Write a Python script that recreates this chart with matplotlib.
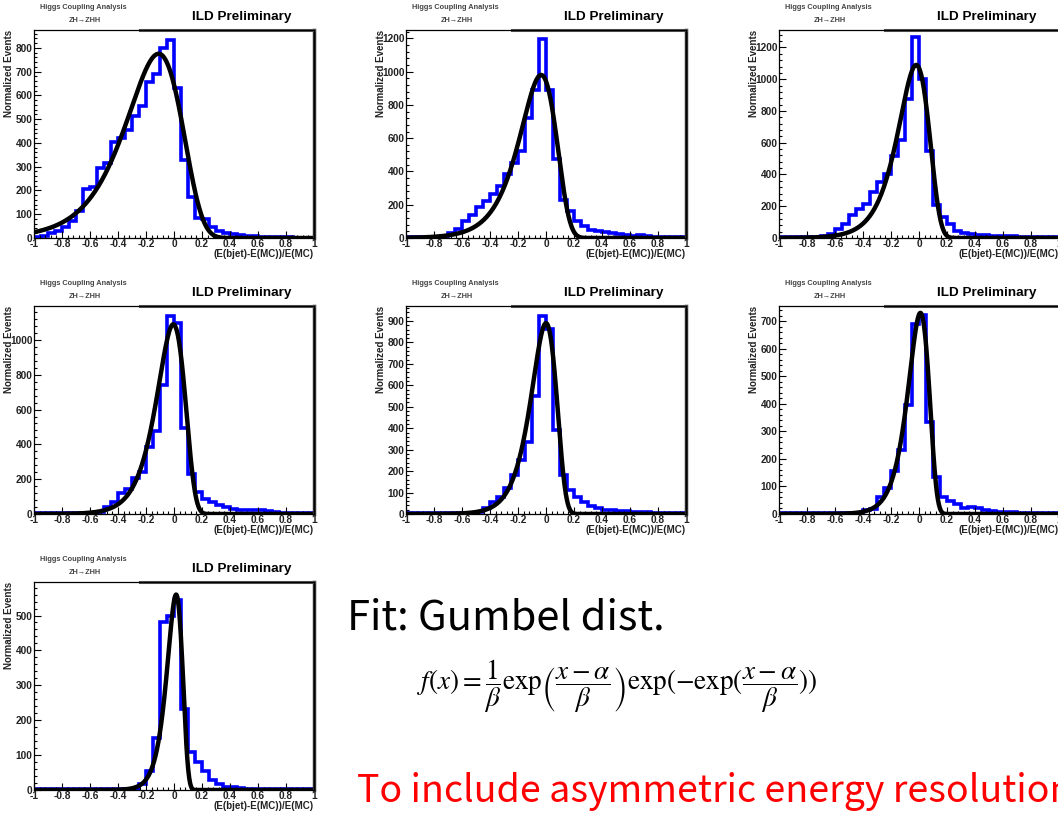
# b-jet energy resolution, 7 jet categories, Gumbel fits (ILD style plots)

import numpy as np
import matplotlib
matplotlib.use("Agg")
import matplotlib.pyplot as plt
from matplotlib.ticker import MultipleLocator, FuncFormatter

# histogram contents, 40 bins of 0.05 from -1 to 1
counts_1 = [5, 10, 20, 31, 45, 73, 115, 205, 215, 294, 315, 404, 420, 453, 512, 554, 657, 692, 800, 835,
            633, 329, 172, 84, 80, 45, 31, 20, 15, 12, 10, 8, 6, 5, 4, 3, 3, 2, 2, 2]
counts_2 = [5, 5, 5, 5, 8, 15, 30, 55, 100, 140, 185, 225, 265, 315, 385, 450, 520, 720, 890, 1195,
            890, 475, 230, 160, 100, 70, 50, 40, 35, 30, 25, 20, 15, 20, 10, 8, 8, 6, 5, 5]
counts_3 = [5, 5, 5, 5, 5, 5, 10, 25, 57, 89, 142, 185, 217, 291, 355, 400, 515, 620, 875, 1265,
            1000, 545, 206, 130, 90, 47, 30, 25, 20, 20, 15, 12, 10, 10, 8, 6, 6, 5, 5, 5]
counts_4 = [3, 3, 3, 3, 3, 3, 3, 3, 3, 12, 40, 69, 118, 146, 204, 243, 387, 474, 744, 1139,
            1100, 493, 227, 127, 89, 69, 50, 40, 31, 21, 21, 25, 21, 17, 12, 8, 6, 5, 5, 4]
counts_5 = [3, 3, 3, 3, 3, 3, 3, 3, 3, 3, 9, 28, 56, 80, 119, 181, 251, 337, 548, 923,
            861, 392, 181, 111, 80, 56, 36, 28, 20, 17, 14, 12, 10, 8, 7, 6, 5, 5, 5, 5]
counts_6 = [3, 3, 3, 3, 3, 3, 3, 3, 3, 3, 3, 3, 16, 19, 62, 95, 156, 232, 394, 688,
            722, 333, 135, 62, 46, 38, 22, 25, 23, 13, 10, 8, 8, 6, 5, 5, 4, 3, 3, 3]
counts_7 = [2, 2, 2, 2, 2, 2, 2, 2, 2, 2, 2, 2, 2, 2, 2, 17, 55, 150, 480, 500,
            545, 232, 108, 79, 55, 29, 17, 10, 8, 5, 4, 4, 3, 3, 3, 2, 2, 2, 2, 2]
all_counts = [counts_1, counts_2, counts_3, counts_4, counts_5, counts_6, counts_7]

# gumbel fit parameters
fit_alpha = [-0.11, -0.035, -0.02, -0.005, 0.0, 0.01, 0.015]
fit_beta = [0.20, 0.13, 0.11, 0.10, 0.09, 0.075, 0.055]
fit_peak = [775, 980, 1090, 1090, 890, 730, 560]

y_max = [875, 1250, 1310, 1195, 970, 755, 596]
y_step = [100, 200, 200, 200, 100, 100, 100]
x_ticks = [-1, -0.8, -0.6, -0.4, -0.2, 0, 0.2, 0.4, 0.6, 0.8, 1]

W, H = 1058, 814
# axes boxes in pixels: left, top
col_left = [34, 406, 779]
row_top = [30, 306, 582]
AX_W, AX_H = 280, 208

ROOT_FONT = "Liberation Sans"


def gumbel(x, alpha, beta, peak):
    z = (x - alpha) / beta
    return peak * np.e * np.exp(z - np.exp(z))


def draw_panel(ax, counts, alpha, beta, peak, ymax, ystep):
    edges = np.linspace(-1, 1, len(counts) + 1)
    ax.stairs(counts, edges, color="#0000ff", lw=2.6)
    xs = np.linspace(-1, 1, 600)
    ax.plot(xs, gumbel(xs, alpha, beta, peak), color="black", lw=3.2)

    ax.set_xlim(-1, 1)
    ax.set_ylim(0, ymax)
    ax.set_xticks(x_ticks)
    ax.xaxis.set_major_formatter(FuncFormatter(lambda v, p: "%g" % round(v, 2)))
    ax.xaxis.set_minor_locator(MultipleLocator(0.04))
    ax.yaxis.set_major_locator(MultipleLocator(ystep))
    ax.yaxis.set_minor_locator(MultipleLocator(ystep / 5))
    ax.yaxis.set_major_formatter(FuncFormatter(lambda v, p: "%d" % v))
    ax.tick_params(which="both", direction="in", top=False, right=False,
                   width=0.8, labelsize=7.3, pad=1.0, labelcolor="#222222")
    ax.tick_params(which="major", length=5)
    ax.tick_params(which="minor", length=2.5)
    for lab in ax.get_xticklabels() + ax.get_yticklabels():
        lab.set_fontweight("bold")
        lab.set_fontfamily(ROOT_FONT)

    for s in ax.spines.values():
        s.set_linewidth(0.9)
    # ROOT frame shadow on the right and title box edge on top
    ax.plot([1.0, 1.0], [0, 1.0], transform=ax.transAxes, color="#333333",
            lw=2.5, clip_on=False)
    ax.plot([0.38, 1.0], [1.0, 1.0], transform=ax.transAxes, color="#555555",
            lw=2.2, clip_on=False)

    ax.text(0.021, 1.106, "Higgs Coupling Analysis", transform=ax.transAxes,
            fontsize=5.3, fontweight="bold", color="#444444", family=ROOT_FONT,
            ha="left", va="center")
    ax.text(0.125, 1.046, "ZH\u2192ZHH", transform=ax.transAxes,
            fontsize=5.3, fontweight="bold", color="#444444", family=ROOT_FONT,
            ha="left", va="center")
    ax.text(0.566, 1.0625, "ILD Preliminary", transform=ax.transAxes,
            fontsize=9.7, fontweight="bold", family=ROOT_FONT,
            ha="left", va="center")
    ax.text(-0.088, 1.0, "Normalized Events", transform=ax.transAxes,
            rotation=90, fontsize=7, fontweight="bold", family=ROOT_FONT,
            ha="center", va="top", color="#222222")
    ax.text(1.0, -0.076, "(E(bjet)-E(MC))/E(MC)", transform=ax.transAxes,
            fontsize=7, fontweight="bold", family=ROOT_FONT,
            ha="right", va="center", color="#222222")


plt.rcParams["mathtext.fontset"] = "stix"
fig = plt.figure(figsize=(W / 100, H / 100), dpi=100)
fig.patch.set_facecolor("white")

slots = [(r, c) for r in range(3) for c in range(3)][:7]
for i, (r, c) in enumerate(slots):
    left = col_left[c] / W
    bottom = 1 - (row_top[r] + AX_H) / H
    ax = fig.add_axes([left, bottom, AX_W / W, AX_H / H])
    draw_panel(ax, all_counts[i], fit_alpha[i], fit_beta[i], fit_peak[i],
               y_max[i], y_step[i])

fig.text(347 / W, 1 - 630 / H, "Fit: Gumbel dist.", fontsize=30,
         family="Noto Sans CJK JP", ha="left", va="baseline")
fig.text(417 / W, 1 - 686 / H,
         r"$f(x) = \dfrac{1}{\beta}\mathrm{exp}\left(\dfrac{x-\alpha}{\beta}\right)"
         r"\mathrm{exp}(-\mathrm{exp}(\dfrac{x-\alpha}{\beta}))$",
         fontsize=19.5, ha="left", va="center")
fig.text(357 / W, 1 - 802 / H, "To include asymmetric energy resolution",
         fontsize=27, color="#ff0000", family="Noto Sans CJK JP",
         ha="left", va="baseline")

fig.savefig("out.png", dpi=100)
